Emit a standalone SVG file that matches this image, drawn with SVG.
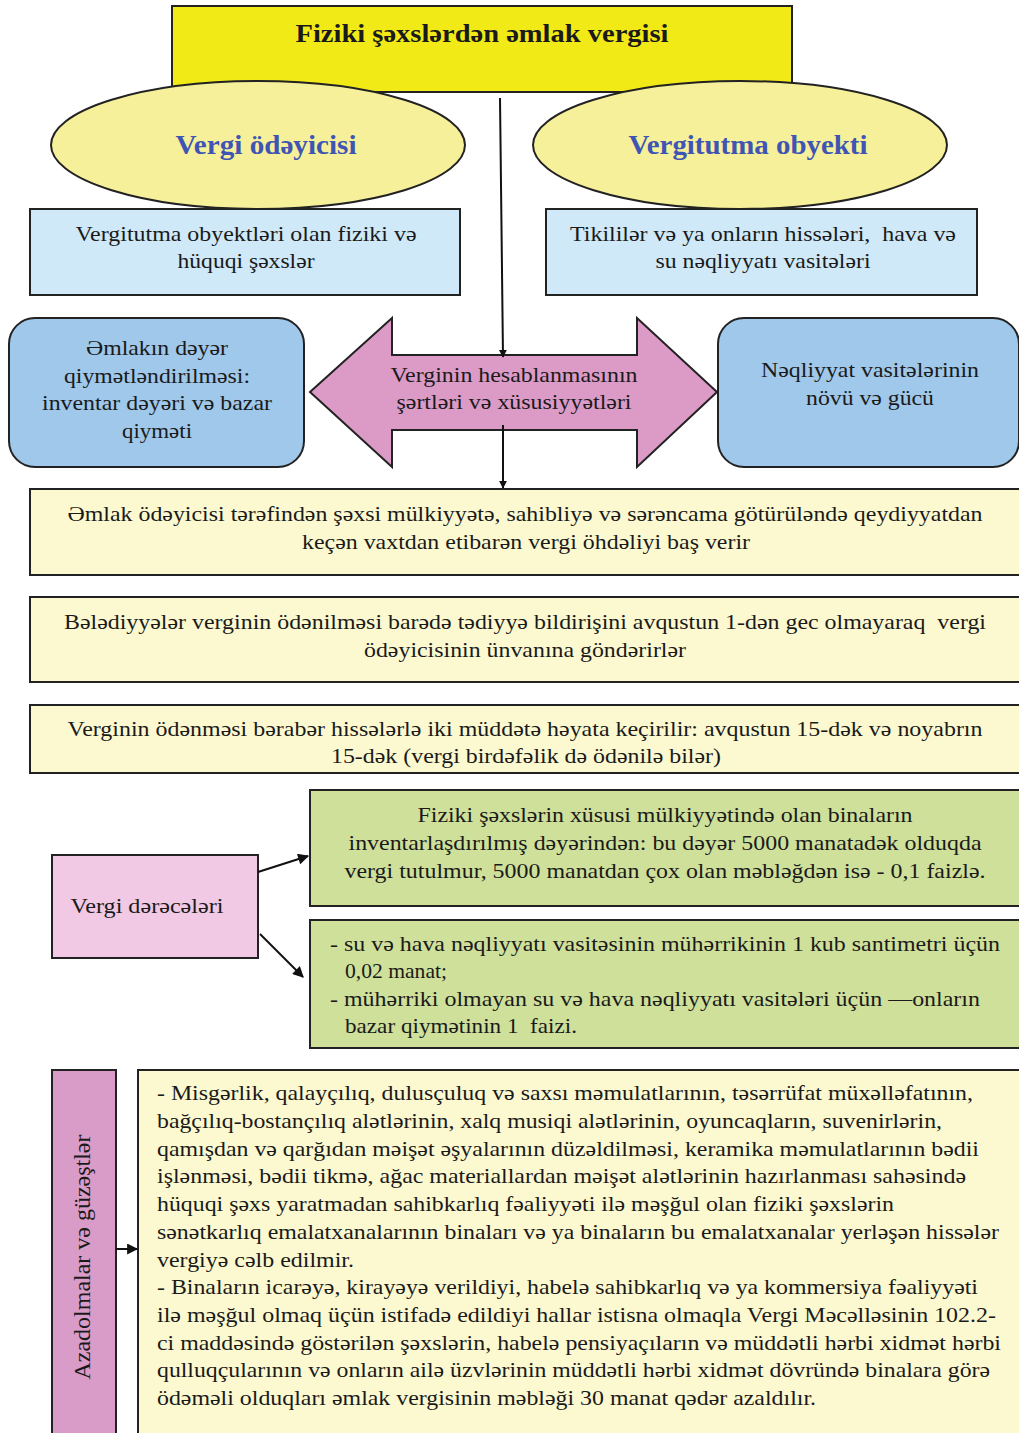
<svg xmlns="http://www.w3.org/2000/svg" width="1019" height="1433" viewBox="0 0 1019 1433">
<style>
.t{font-family:"Liberation Serif","Times New Roman",serif;font-size:22px;fill:#1a1a1a;white-space:pre}
.c{text-anchor:middle}
.b{stroke:#222;stroke-width:2}
.h{font-family:"Liberation Serif",serif;font-weight:bold;font-size:28px;fill:#3f55b3;text-anchor:middle}
.ln{stroke:#111;stroke-width:2;fill:none}
</style>
<defs>
<marker id="ah" viewBox="0 0 10 10" refX="9" refY="5" markerWidth="8" markerHeight="8" markerUnits="userSpaceOnUse" orient="auto">
<path d="M0,0 L10,5 L0,10 z" fill="#111"/>
</marker>
<marker id="ah2" viewBox="0 0 10 10" refX="9" refY="5" markerWidth="12" markerHeight="11" orient="auto" markerUnits="userSpaceOnUse">
<path d="M0,0 L10,5 L0,10 z" fill="#111"/>
</marker>
</defs>
<rect width="1019" height="1433" fill="#fff"/>

<g id="title">
<rect x="172" y="6" width="620" height="86" fill="#f2ea17" class="b"/>
<text x="482" y="42" class="t c" style="font-weight:bold;font-size:26px" textLength="373" lengthAdjust="spacingAndGlyphs">Fiziki şəxslərdən əmlak vergisi</text>
</g>

<g id="payer">
<ellipse cx="258" cy="145" rx="207" ry="64" fill="#f6f09a" class="b"/>
<text x="266" y="154" class="h" textLength="181" lengthAdjust="spacingAndGlyphs">Vergi ödəyicisi</text>
</g>
<g id="object">
<ellipse cx="740" cy="145" rx="207" ry="64" fill="#f6f09a" class="b"/>
<text x="748" y="154" class="h" textLength="239" lengthAdjust="spacingAndGlyphs">Vergitutma obyekti</text>
</g>

<g id="payer-desc">
<rect x="30" y="209" width="430" height="86" fill="#cfe9f8" class="b"/>
<text x="246" y="241" class="t c" textLength="341" lengthAdjust="spacingAndGlyphs">Vergitutma obyektləri olan fiziki və</text>
<text x="246" y="268" class="t c" textLength="137" lengthAdjust="spacingAndGlyphs">hüquqi şəxslər</text>
</g>
<g id="object-desc">
<rect x="546" y="209" width="431" height="86" fill="#cfe9f8" class="b"/>
<text x="763" y="241" class="t c" textLength="386" lengthAdjust="spacingAndGlyphs">Tikililər və ya onların hissələri,  hava və</text>
<text x="763" y="268" class="t c" textLength="215" lengthAdjust="spacingAndGlyphs">su nəqliyyatı vasitələri</text>
</g>

<g id="valuation">
<rect x="9" y="318" width="295" height="149" rx="26" fill="#9fc8ea" class="b"/>
<text x="157" y="355" class="t c" textLength="142" lengthAdjust="spacingAndGlyphs">Əmlakın dəyər</text>
<text x="157" y="383" class="t c" textLength="186" lengthAdjust="spacingAndGlyphs">qiymətləndirilməsi:</text>
<text x="157" y="410" class="t c" textLength="230" lengthAdjust="spacingAndGlyphs">inventar dəyəri və bazar</text>
<text x="157" y="438" class="t c" textLength="70" lengthAdjust="spacingAndGlyphs">qiyməti</text>
</g>

<g id="calc">
<path d="M310,392 L392,318 L392,355 L637,355 L637,318 L717,392 L637,467 L637,430 L392,430 L392,467 Z" fill="#dc9bc7" class="b"/>
<text x="514" y="382" class="t c" textLength="247" lengthAdjust="spacingAndGlyphs">Verginin hesablanmasının</text>
<text x="514" y="409" class="t c" textLength="235" lengthAdjust="spacingAndGlyphs">şərtləri və xüsusiyyətləri</text>
</g>

<g id="transport">
<rect x="718" y="318" width="301" height="149" rx="26" fill="#9fc8ea" class="b"/>
<text x="870" y="377" class="t c" textLength="218" lengthAdjust="spacingAndGlyphs">Nəqliyyat vasitələrinin</text>
<text x="870" y="405" class="t c" textLength="128" lengthAdjust="spacingAndGlyphs">növü və gücü</text>
</g>

<g id="obligation">
<rect x="30" y="489" width="1000" height="86" fill="#fcf9d0" class="b"/>
<text x="525" y="521" class="t c" textLength="915" lengthAdjust="spacingAndGlyphs">Əmlak ödəyicisi tərəfindən şəxsi mülkiyyətə, sahibliyə və sərəncama götürüləndə qeydiyyatdan</text>
<text x="526" y="549" class="t c" textLength="448" lengthAdjust="spacingAndGlyphs">keçən vaxtdan etibarən vergi öhdəliyi baş verir</text>
</g>

<g id="notice">
<rect x="30" y="597" width="1000" height="85" fill="#fcf9d0" class="b"/>
<text x="525" y="629" class="t c" textLength="922" lengthAdjust="spacingAndGlyphs">Bələdiyyələr verginin ödənilməsi barədə tədiyyə bildirişini avqustun 1-dən gec olmayaraq  vergi</text>
<text x="525" y="657" class="t c" textLength="322" lengthAdjust="spacingAndGlyphs">ödəyicisinin ünvanına göndərirlər</text>
</g>

<g id="payment">
<rect x="30" y="705" width="1000" height="68" fill="#fcf9d0" class="b"/>
<text x="525" y="736" class="t c" textLength="915" lengthAdjust="spacingAndGlyphs">Verginin ödənməsi bərabər hissələrlə iki müddətə həyata keçirilir: avqustun 15-dək və noyabrın</text>
<text x="526" y="763" class="t c" textLength="390" lengthAdjust="spacingAndGlyphs">15-dək (vergi birdəfəlik də ödənilə bilər)</text>
</g>

<g id="rates">
<rect x="52" y="855" width="206" height="103" fill="#f1c9e4" class="b"/>
<text x="147" y="913" class="t c" textLength="153" lengthAdjust="spacingAndGlyphs">Vergi dərəcələri</text>
</g>

<g id="rate-buildings">
<rect x="310" y="790" width="720" height="116" fill="#cfe09a" class="b"/>
<text x="665" y="822" class="t c" textLength="495" lengthAdjust="spacingAndGlyphs">Fiziki şəxslərin xüsusi mülkiyyətində olan binaların</text>
<text x="665" y="850" class="t c" textLength="633" lengthAdjust="spacingAndGlyphs">inventarlaşdırılmış dəyərindən: bu dəyər 5000 manatadək olduqda</text>
<text x="665" y="878" class="t c" textLength="641" lengthAdjust="spacingAndGlyphs">vergi tutulmur, 5000 manatdan çox olan məbləğdən isə - 0,1 faizlə.</text>
</g>

<g id="rate-transport">
<rect x="310" y="920" width="720" height="128" fill="#cfe09a" class="b"/>
<text x="330" y="951" class="t" textLength="670" lengthAdjust="spacingAndGlyphs">- su və hava nəqliyyatı vasitəsinin mühərrikinin 1 kub santimetri üçün</text>
<text x="345" y="978" class="t" textLength="102" lengthAdjust="spacingAndGlyphs">0,02 manat;</text>
<text x="330" y="1006" class="t" textLength="650" lengthAdjust="spacingAndGlyphs">- mühərriki olmayan su və hava nəqliyyatı vasitələri üçün —onların</text>
<text x="345" y="1033" class="t" textLength="232" lengthAdjust="spacingAndGlyphs">bazar qiymətinin 1  faizi.</text>
</g>

<g id="exemptions">
<rect x="52" y="1070" width="64" height="375" fill="#d99bc8" class="b"/>
<text transform="translate(90,1257) rotate(-90)" text-anchor="middle" style="font-family:'Liberation Serif','Times New Roman',serif;font-size:24px;fill:#1a1a1a" textLength="245" lengthAdjust="spacingAndGlyphs">Azadolmalar və güzəştlər</text>
</g>

<g id="exemption-text">
<rect x="138" y="1070" width="892" height="375" fill="#fcf9d0" class="b"/>
<text x="157" y="1100" class="t" textLength="816" lengthAdjust="spacingAndGlyphs">- Misgərlik, qalayçılıq, dulusçuluq və saxsı məmulatlarının, təsərrüfat müxəlləfatının,</text>
<text x="157" y="1128" class="t" textLength="785" lengthAdjust="spacingAndGlyphs">bağçılıq-bostançılıq alətlərinin, xalq musiqi alətlərinin, oyuncaqların, suvenirlərin,</text>
<text x="157" y="1156" class="t" textLength="822" lengthAdjust="spacingAndGlyphs">qamışdan və qarğıdan məişət əşyalarının düzəldilməsi, keramika məmulatlarının bədii</text>
<text x="157" y="1183" class="t" textLength="809" lengthAdjust="spacingAndGlyphs">işlənməsi, bədii tikmə, ağac materiallardan məişət alətlərinin hazırlanması sahəsində</text>
<text x="157" y="1211" class="t" textLength="737" lengthAdjust="spacingAndGlyphs">hüquqi şəxs yaratmadan sahibkarlıq fəaliyyəti ilə məşğul olan fiziki şəxslərin</text>
<text x="157" y="1239" class="t" textLength="842" lengthAdjust="spacingAndGlyphs">sənətkarlıq emalatxanalarının binaları və ya binaların bu emalatxanalar yerləşən hissələr</text>
<text x="157" y="1267" class="t" textLength="197" lengthAdjust="spacingAndGlyphs">vergiyə cəlb edilmir.</text>
<text x="157" y="1294" class="t" textLength="821" lengthAdjust="spacingAndGlyphs">- Binaların icarəyə, kirayəyə verildiyi, habelə sahibkarlıq və ya kommersiya fəaliyyəti</text>
<text x="157" y="1322" class="t" textLength="839" lengthAdjust="spacingAndGlyphs">ilə məşğul olmaq üçün istifadə edildiyi hallar istisna olmaqla Vergi Məcəlləsinin 102.2-</text>
<text x="157" y="1350" class="t" textLength="844" lengthAdjust="spacingAndGlyphs">ci maddəsində göstərilən şəxslərin, habelə pensiyaçıların və müddətli hərbi xidmət hərbi</text>
<text x="157" y="1377" class="t" textLength="833" lengthAdjust="spacingAndGlyphs">qulluqçularının və onların ailə üzvlərinin müddətli hərbi xidmət dövründə binalara görə</text>
<text x="157" y="1405" class="t" textLength="659" lengthAdjust="spacingAndGlyphs">ödəməli olduqları əmlak vergisinin məbləği 30 manat qədər azaldılır.</text>
</g>

<g id="connectors">
<line x1="500" y1="98" x2="503" y2="357" class="ln" marker-end="url(#ah)"/>
<line x1="503" y1="425" x2="503" y2="488" class="ln" marker-end="url(#ah)"/>
<line x1="258" y1="872" x2="308" y2="856" class="ln" marker-end="url(#ah2)"/>
<line x1="260" y1="934" x2="303" y2="977" class="ln" marker-end="url(#ah2)"/>
<line x1="116" y1="1249" x2="137" y2="1249" class="ln" marker-end="url(#ah2)"/>
</g>
</svg>
